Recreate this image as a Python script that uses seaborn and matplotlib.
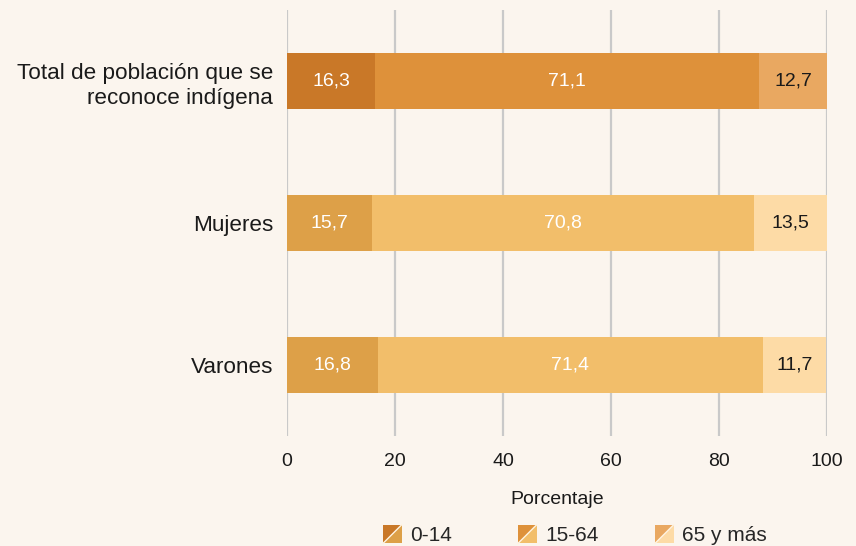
import numpy as np
import pandas as pd
import matplotlib
matplotlib.use("Agg")
import matplotlib.pyplot as plt
from matplotlib.legend_handler import HandlerBase
from matplotlib.patches import Polygon
from matplotlib.lines import Line2D
import seaborn as sns

# ---- data ----
categories = ["Total de población que se\nreconoce indígena", "Mujeres", "Varones"]
age_groups = ["0-14", "15-64", "65 y más"]
v_0_14 = [16.3, 15.7, 16.8]
v_15_64 = [71.1, 70.8, 71.4]
v_65 = [12.7, 13.5, 11.7]
x_ticks = [0, 20, 40, 60, 80, 100]

# colours: first row (total) darker shades, other rows lighter shades
dark_cols = ["#C97828", "#DE913A", "#E9A861"]
light_cols = ["#DDA048", "#F2BE6A", "#FDDBA6"]
text_cols = ["white", "white", "#1a1a1a"]

BG = "#FBF5EE"
sns.set_theme(style="white")
plt.rcParams["font.family"] = ["Liberation Sans", "DejaVu Sans"]

df = pd.DataFrame({"cat": categories, "a": v_0_14, "b": v_15_64, "c": v_65})
df["cum_a"] = df["a"]
df["cum_b"] = df["a"] + df["b"]
df["cum_c"] = df["a"] + df["b"] + df["c"]

fig = plt.figure(figsize=(8.56, 5.46), dpi=100, facecolor=BG)
ax = fig.add_axes([287 / 856, 1 - 436 / 546, 540 / 856, 426 / 546])
ax.set_facecolor(BG)

for x in x_ticks:
    ax.axvline(x, color="#C9C9C9", lw=1.6, zorder=0)

layers = [("cum_c", 2), ("cum_b", 1), ("cum_a", 0)]
for col, gi in layers:
    pal = {categories[0]: dark_cols[gi], categories[1]: light_cols[gi], categories[2]: light_cols[gi]}
    sns.barplot(data=df, x=col, y="cat", hue="cat", palette=pal, order=categories,
                hue_order=categories, width=0.4, legend=False, saturation=1,
                linewidth=0, ax=ax, zorder=2)

# value labels
for i in range(len(categories)):
    segs = [(0, v_0_14[i]), (v_0_14[i], v_15_64[i]), (v_0_14[i] + v_15_64[i], v_65[i])]
    for gi, (left, w) in enumerate(segs):
        ax.text(left + w / 2, i, f"{w:.1f}".replace(".", ","), ha="center", va="center",
                color=text_cols[gi], fontsize=14, zorder=5)

ax.set_xlim(0, 100)
ax.set_ylim(2.5, -0.5)
ax.set_xticks(x_ticks)
ax.set_xticklabels([str(t) for t in x_ticks], fontsize=14, color="#1a1a1a")
ax.tick_params(axis="x", length=0, pad=12.5)
ax.tick_params(axis="y", length=0, pad=10, labelsize=16.2, labelcolor="#1a1a1a")
for lab in ax.get_yticklabels():
    lab.set_multialignment("right")
    lab.set_linespacing(1.25)
ax.set_ylabel("")
ax.set_xlabel("Porcentaje", fontsize=14, color="#1a1a1a", labelpad=15)
for s in ax.spines.values():
    s.set_visible(False)
ax.grid(False)


class DiagHandler(HandlerBase):
    def __init__(self, c1, c2):
        super().__init__()
        self.c1, self.c2 = c1, c2

    def create_artists(self, legend, orig_handle, xdescent, ydescent, width, height, fontsize, trans):
        x0, y0 = -xdescent, -ydescent
        w = h = height
        up = Polygon([(x0, y0), (x0, y0 + h), (x0 + w, y0 + h)], closed=True,
                     facecolor=self.c1, edgecolor="none", transform=trans)
        lo = Polygon([(x0, y0), (x0 + w, y0), (x0 + w, y0 + h)], closed=True,
                     facecolor=self.c2, edgecolor="none", transform=trans)
        ln = Line2D([x0, x0 + w], [y0, y0 + h], color="#FFF3E0", lw=1.0, transform=trans)
        return [up, lo, ln]


leg_x = [383, 518, 655]
for i, g in enumerate(age_groups):
    h = Line2D([], [])
    fig.legend([h], [g], loc="center left", bbox_to_anchor=(leg_x[i] / 856, 1 - 535 / 546),
               frameon=False, fontsize=15, handler_map={h: DiagHandler(dark_cols[i], light_cols[i])},
               handlelength=1.0, handleheight=1.0, handletextpad=0.3, borderpad=0,
               borderaxespad=0)

fig.savefig("out.png", dpi=100, facecolor=BG)
